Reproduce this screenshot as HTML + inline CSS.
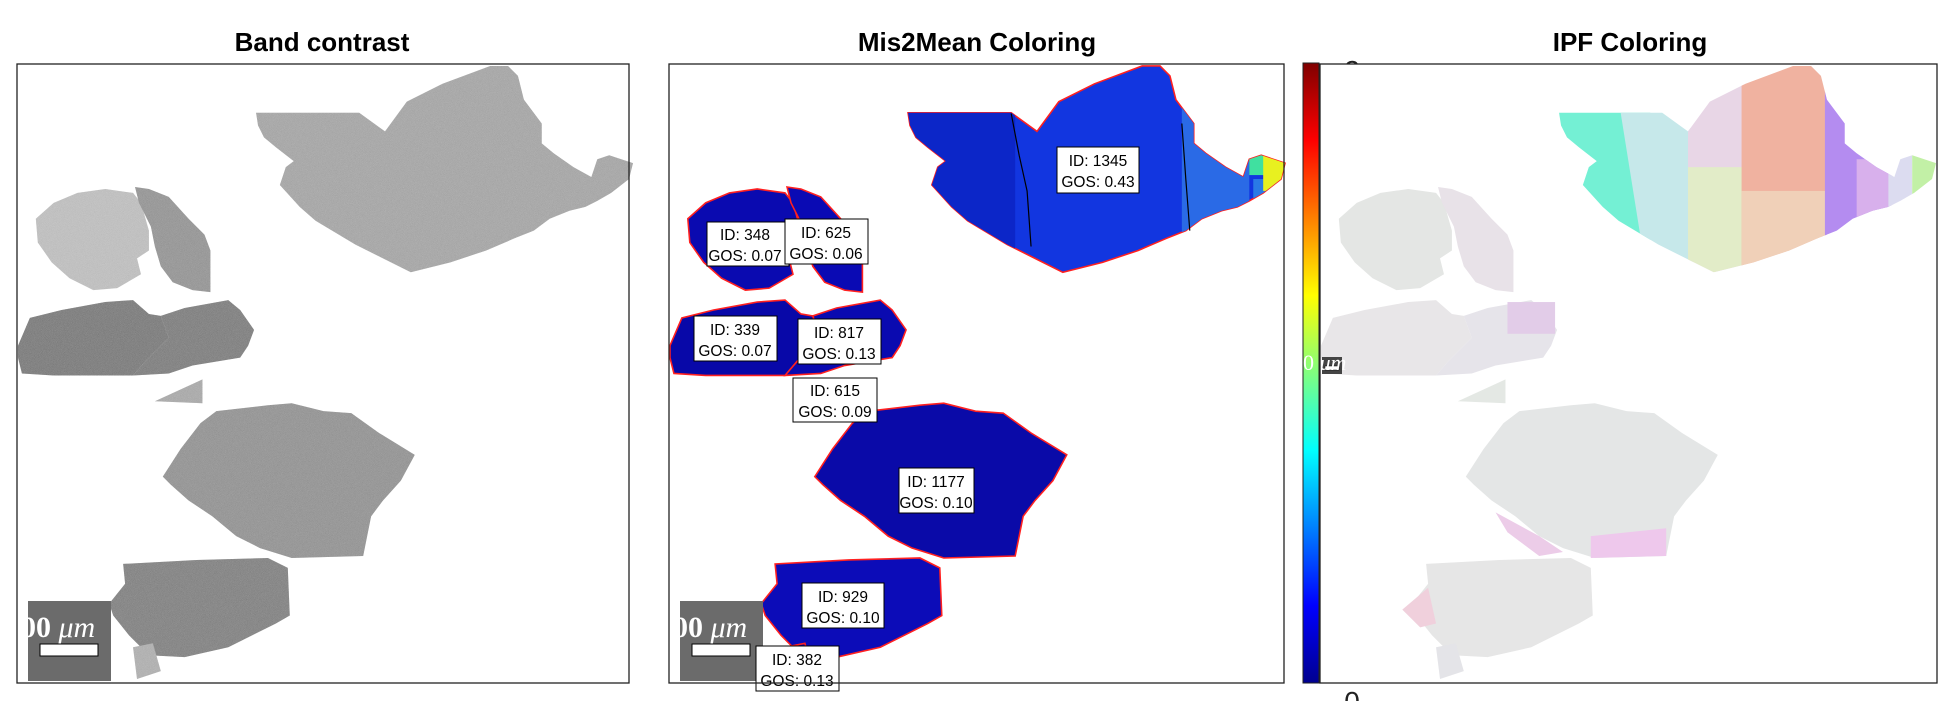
<!DOCTYPE html>
<html><head><meta charset="utf-8"><style>
html,body{margin:0;padding:0;background:#fff;}
svg{display:block;}
.sans{font-family:"Liberation Sans",sans-serif;}
.serif{font-family:"Liberation Serif",serif;}
</style></head><body>
<svg width="1953" height="701" viewBox="0 0 1953 701" xmlns="http://www.w3.org/2000/svg">
<defs>
<linearGradient id="jet" x1="0" y1="1" x2="0" y2="0">
<stop offset="0" stop-color="#00008f"/><stop offset="0.125" stop-color="#0000ff"/>
<stop offset="0.375" stop-color="#00ffff"/><stop offset="0.5" stop-color="#80ff80"/>
<stop offset="0.625" stop-color="#ffff00"/><stop offset="0.875" stop-color="#ff0000"/>
<stop offset="1" stop-color="#800000"/>
</linearGradient>
<filter id="noise" x="0" y="0" width="100%" height="100%">
<feTurbulence type="fractalNoise" baseFrequency="0.9" numOctaves="1" result="n"/>
<feColorMatrix type="saturate" values="0" in="n" result="g"/>
<feComponentTransfer in="g" result="g2"><feFuncA type="linear" slope="0" intercept="0.25"/></feComponentTransfer>
<feComposite in="g2" in2="SourceGraphic" operator="in" result="m"/>
<feMerge><feMergeNode in="SourceGraphic"/><feMergeNode in="m"/></feMerge>
</filter>
<polygon id="gBig" points="610,133 870,133 935,180 990,105 1080,60 1200,15 1245,15 1270,40 1285,100 1330,160 1330,210 1360,235 1410,270 1455,295 1470,250 1500,240 1560,260 1550,300 1505,335 1470,355 1440,370 1400,380 1350,400 1310,430 1260,450 1190,480 1100,510 1000,535 940,505 860,465 760,405 720,370 670,315 685,270 705,255 660,220 630,195 615,165"/>
<polygon id="gA" points="55,400 100,360 160,335 230,325 300,335 320,360 340,430 340,480 310,500 320,540 260,575 200,580 140,550 95,510 60,460"/>
<polygon id="gB" points="305,320 340,325 390,345 440,400 480,440 495,480 495,585 450,580 400,560 370,520 355,470 345,420 315,360"/>
<polygon id="gC" points="10,720 40,650 120,630 230,610 300,605 340,640 370,645 390,700 330,760 300,795 200,795 100,795 20,790 10,750"/>
<polygon id="gD" points="370,645 430,625 540,605 570,630 605,680 590,720 570,750 450,770 390,790 300,795 330,760 390,700"/>
<polygon id="gT" points="355,860 475,805 475,865"/>
<polygon id="gH" points="375,1050 420,980 470,915 510,885 640,870 700,865 780,885 850,890 920,940 1010,995 975,1060 930,1110 900,1150 880,1250 700,1255 620,1230 560,1200 500,1150 440,1110 395,1070"/>
<polygon id="gE" points="240,1370 280,1320 275,1270 460,1260 640,1255 690,1280 695,1400 660,1420 540,1480 430,1505 340,1500 290,1450 250,1400"/>
<polygon id="gS" points="300,1480 350,1470 370,1540 310,1560"/>
<clipPath id="clipBig"><use href="#gBig"/></clipPath>
</defs>

<!-- Titles -->
<text class="sans" x="322" y="51" font-size="26" font-weight="bold" text-anchor="middle">Band contrast</text>
<text class="sans" x="977" y="51" font-size="26" font-weight="bold" text-anchor="middle">Mis2Mean Coloring</text>
<text class="sans" x="1630" y="51" font-size="26" font-weight="bold" text-anchor="middle">IPF Coloring</text>

<!-- Colorbar tick labels (partly hidden) -->
<text class="sans" x="1352" y="80" font-size="28" text-anchor="middle" fill="#222">2</text>
<text class="sans" x="1352" y="711" font-size="28" text-anchor="middle" fill="#222">0</text>

<!-- Panel 1: Band contrast -->
<g>
<rect x="17" y="64" width="612" height="619" fill="#fff"/>
<g transform="translate(14,60) scale(0.3968)" filter="url(#noise)">
<use href="#gBig" fill="#a4a4a4"/>
<use href="#gA" fill="#c2c2c2"/>
<use href="#gB" fill="#8e8e8e"/>
<use href="#gC" fill="#6a6a6a"/>
<use href="#gD" fill="#6e6e6e"/>
<use href="#gT" fill="#a8a8a8"/>
<use href="#gH" fill="#8c8c8c"/>
<use href="#gE" fill="#747474"/>
<use href="#gS" fill="#b0b0b0"/>
</g>
<g>
<rect x="28" y="601" width="83" height="80" fill="#6b6b6b"/>
<text class="serif" x="6" y="637" font-size="30" font-weight="bold" fill="#fff">300 <tspan font-style="italic" font-weight="normal">μm</tspan></text>
<rect x="40" y="644" width="58" height="12" fill="#fff" stroke="#000" stroke-width="1"/>
</g>
<rect x="17" y="64" width="612" height="619" fill="none" stroke="#222" stroke-width="1.3"/>
</g>

<!-- Panel 2: Mis2Mean -->
<g>
<rect x="669" y="64" width="615" height="619" fill="#fff"/>
<g transform="translate(666,60) scale(0.3968)" stroke="#ff2020" stroke-width="4">
<use href="#gBig" fill="#1236e0"/>
<g clip-path="url(#clipBig)" stroke="none">
<rect x="600" y="0" width="280" height="600" fill="#0c26c8"/>
<rect x="1300" y="0" width="170" height="600" fill="#2a6ae6"/>
<rect x="1480" y="300" width="60" height="60" fill="#2a7ae6"/>
<rect x="1470" y="230" width="40" height="60" fill="#40e0a0"/>
<rect x="1505" y="230" width="60" height="100" fill="#e8f020"/>
</g>
<polyline points="870,135 890,240 910,330 920,470" fill="none" stroke="#000" stroke-width="3"/>
<polyline points="1300,160 1310,300 1320,430" fill="none" stroke="#000" stroke-width="3"/>
<use href="#gA" fill="#0a0ab0"/>
<use href="#gB" fill="#0a0ab4"/>
<use href="#gC" fill="#0808a8"/>
<use href="#gD" fill="#0a0ab0"/>
<use href="#gT" fill="#0a0ab0"/>
<use href="#gH" fill="#0a0aa8"/>
<use href="#gE" fill="#0c0cb8"/>
<use href="#gS" fill="#0a0ab0"/>
</g>
<g>
<rect x="680" y="601" width="83" height="80" fill="#6b6b6b"/>
<text class="serif" x="658" y="637" font-size="30" font-weight="bold" fill="#fff">300 <tspan font-style="italic" font-weight="normal">μm</tspan></text>
<rect x="692" y="644" width="58" height="12" fill="#fff" stroke="#000" stroke-width="1"/>
</g>
<g class="sans" font-size="15.5" text-anchor="middle">
<g><rect x="1057" y="147" width="82" height="46" fill="#fff" stroke="#000"/><text x="1098" y="166">ID: 1345</text><text x="1098" y="187">GOS: 0.43</text></g>
<g><rect x="707" y="222" width="82" height="44" fill="#fff" stroke="#000"/><text x="745" y="240">ID: 348</text><text x="745" y="261">GOS: 0.07</text></g>
<g><rect x="785" y="219" width="83" height="45" fill="#fff" stroke="#000"/><text x="826" y="238">ID: 625</text><text x="826" y="259">GOS: 0.06</text></g>
<g><rect x="694" y="316" width="83" height="45" fill="#fff" stroke="#000"/><text x="735" y="335">ID: 339</text><text x="735" y="356">GOS: 0.07</text></g>
<g><rect x="798" y="319" width="83" height="45" fill="#fff" stroke="#000"/><text x="839" y="338">ID: 817</text><text x="839" y="359">GOS: 0.13</text></g>
<g><rect x="793" y="378" width="84" height="44" fill="#fff" stroke="#000"/><text x="835" y="396">ID: 615</text><text x="835" y="417">GOS: 0.09</text></g>
<g><rect x="899" y="468" width="75" height="45" fill="#fff" stroke="#000"/><text x="936" y="487">ID: 1177</text><text x="936" y="508">GOS: 0.10</text></g>
<g><rect x="802" y="583" width="82" height="45" fill="#fff" stroke="#000"/><text x="843" y="602">ID: 929</text><text x="843" y="623">GOS: 0.10</text></g>
<g><rect x="756" y="646" width="83" height="45" fill="#fff" stroke="#000"/><text x="797" y="665">ID: 382</text><text x="797" y="686">GOS: 0.13</text></g>
</g>
<rect x="669" y="64" width="615" height="619" fill="none" stroke="#222" stroke-width="1.3"/>
</g>

<!-- Colorbar -->
<rect x="1303" y="63" width="16" height="620" fill="url(#jet)" stroke="#222" stroke-width="1"/>

<!-- Panel 3: IPF -->
<g>
<rect x="1320" y="64" width="617" height="619" fill="#fff"/>
<g transform="translate(1317,60) scale(0.3968)">
<g clip-path="url(#clipBig)">
<rect x="600" y="0" width="240" height="600" fill="#74f0d4"/>
<polygon points="760,100 940,100 950,600 840,600" fill="#c6e8ea"/>
<rect x="935" y="0" width="140" height="600" fill="#e8d6e6"/>
<rect x="935" y="270" width="140" height="330" fill="#e2ecc8"/>
<rect x="1070" y="0" width="215" height="600" fill="#f0b2a0"/>
<rect x="1070" y="330" width="215" height="300" fill="#f0d0b8"/>
<rect x="1280" y="0" width="160" height="600" fill="#b48cf0"/>
<rect x="1360" y="250" width="90" height="200" fill="#d8b0ec"/>
<rect x="1440" y="0" width="60" height="600" fill="#dcdcf0"/>
<rect x="1500" y="0" width="70" height="600" fill="#c2f0a6"/>
</g>
<use href="#gA" fill="#e4e6e4"/>
<use href="#gB" fill="#e8e2e8"/>
<use href="#gC" fill="#e8e6e8"/>
<use href="#gD" fill="#e6e4ea"/>
<rect x="480" y="610" width="120" height="80" fill="#e2cce8"/>
<use href="#gT" fill="#e4e8e4"/>
<use href="#gH" fill="#e4e6e6"/>
<polygon points="450,1140 560,1200 620,1240 560,1250 480,1190" fill="#eccce8"/>
<polygon points="690,1200 880,1180 880,1250 690,1255" fill="#eec8ec"/>
<use href="#gE" fill="#e6e6e6"/>
<polygon points="215,1385 280,1330 300,1420 260,1430" fill="#f0d0dc"/>
<use href="#gS" fill="#e4e4e8"/>
</g>
<g>
<rect x="1322" y="357" width="20" height="17" fill="#444"/>
<rect x="1325" y="366" width="14" height="4" fill="#fff" stroke="#000" stroke-width="0.5"/>
<text class="serif" x="1303" y="370" font-size="22" fill="#fff">0 <tspan font-style="italic">μm</tspan></text>
</g>
<rect x="1320" y="64" width="617" height="619" fill="none" stroke="#222" stroke-width="1.3"/>
</g>
</svg>
</body></html>
